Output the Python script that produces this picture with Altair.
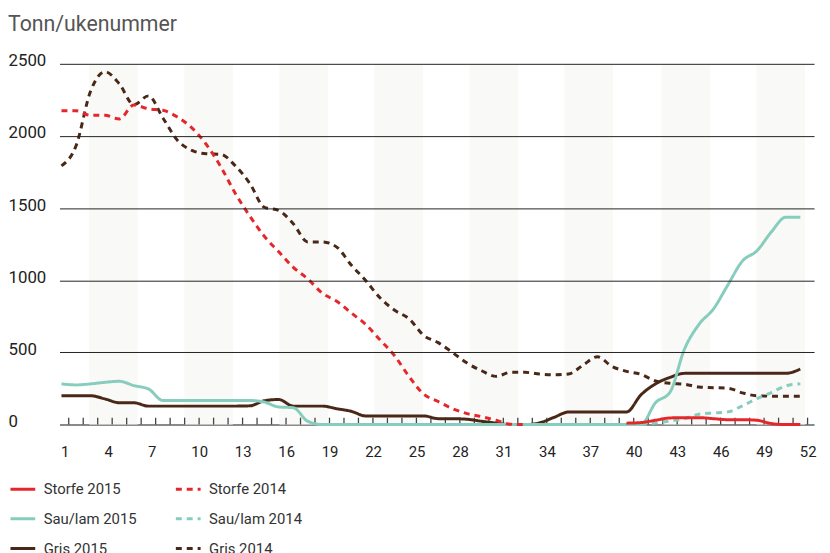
import altair as alt
import pandas as pd

# ---- data (tonn per ukenummer) ----
weeks_all = list(range(1, 53))

storfe_2015_weeks = list(range(40, 53))
storfe_2015 = [10, 14, 30, 46, 48, 48, 41, 34, 34, 30, 7, 0, 0]

storfe_2014_weeks = list(range(1, 34))
storfe_2014 = [2175, 2175, 2143, 2143, 2118, 2215, 2188, 2178, 2131, 2056,
               1941, 1786, 1602, 1445, 1305, 1197, 1090, 1010, 911, 854,
               774, 694, 586, 476, 332, 211, 160, 110, 76, 55,
               30, 2, 0]

sau_2015_weeks = list(range(1, 53))
sau_2015 = [282, 275, 282, 293, 300, 270, 247, 167, 167, 167,
            167, 167, 167, 167, 156, 122, 117, 23, 0, 0,
            0, 0, 0, 0, 0, 0, 0, 0, 0, 0,
            0, 0, 0, 0, 0, 0, 0, 0, 0, 0,
            0, 151, 224, 522, 694, 801, 968, 1133, 1204, 1335,
            1437, 1437]

sau_2014_weeks = list(range(41, 53))
sau_2014 = [0, 10, 25, 41, 72, 80, 88, 130, 180, 222, 268, 282]

gris_2015_weeks = list(range(1, 53))
gris_2015 = [200, 200, 200, 178, 151, 151, 128, 128, 128, 128,
             128, 128, 128, 130, 165, 174, 128, 128, 128, 110,
             92, 60, 60, 60, 60, 60, 41, 41, 37, 23,
             10, 0, 0, 12, 50, 87, 87, 87, 87, 87,
             206, 282, 327, 355, 355, 355, 355, 355, 355, 355,
             355, 385]

gris_2014_weeks = list(range(1, 53))
gris_2014 = [1793, 1930, 2308, 2445, 2360, 2216, 2278, 2125, 1971, 1900,
             1877, 1873, 1793, 1671, 1506, 1483, 1392, 1266, 1266, 1230,
             1106, 998, 877, 792, 733, 618, 568, 499, 426, 373,
             334, 362, 362, 350, 345, 350, 412, 470, 403, 369,
             348, 302, 286, 279, 261, 256, 252, 220, 199, 197,
             197, 197]

# legend is filled column by column: 2015 series left, 2014 series right
series_names = ["Storfe 2015", "Sau/lam 2015", "Gris 2015", "Storfe 2014", "Sau/lam 2014", "Gris 2014"]
series_colors = ["#e5262b", "#86cdbd", "#4a2818", "#e5262b", "#86cdbd", "#4a2818"]
series_dash = [[1, 0], [1, 0], [1, 0], [6, 5], [6, 5], [6, 5]]

x_label_weeks = [1, 4, 7, 10, 13, 16, 19, 22, 25, 28, 31, 34, 37, 40, 43, 46, 49, 52]
y_ticks = [0, 500, 1000, 1500, 2000, 2500]

band_start = [2.91, 9.48, 16.04, 22.6, 29.16, 35.72, 42.42, 48.98]
band_end = [6.26, 12.83, 19.39, 25.95, 32.51, 39.07, 45.77, 52.33]

tick_weeks = [w + 0.5 for w in weeks_all]

# ---- tables ----
rows = []
for name, wk, vals in [
    ("Gris 2014", gris_2014_weeks, gris_2014),
    ("Gris 2015", gris_2015_weeks, gris_2015),
    ("Sau/lam 2014", sau_2014_weeks, sau_2014),
    ("Sau/lam 2015", sau_2015_weeks, sau_2015),
    ("Storfe 2014", storfe_2014_weeks, storfe_2014),
    ("Storfe 2015", storfe_2015_weeks, storfe_2015),
]:
    for w, v in zip(wk, vals):
        rows.append({"series": name, "week": w, "value": v})
df = pd.DataFrame(rows)
bands_df = pd.DataFrame({"start": band_start, "end": band_end})
ticks_df = pd.DataFrame({"tick": tick_weeks})

W = 762
H = 364.3
xscale = alt.Scale(domain=[0.863, 52.95], nice=False, zero=False)
yscale = alt.Scale(domain=[0, 2500], nice=False)
FONT = "Roboto"

x_axis = alt.Axis(
    values=x_label_weeks, title=None, grid=False, ticks=False, tickSize=0,
    domainColor="#8a8a8a", domainWidth=2, labelAlign="left", labelOffset=-1,
    labelPadding=20, labelBaseline="top", labelFontSize=15, labelFont=FONT,
    labelColor="#222", labelFlush=False, labelOverlap=False)

y_axis = alt.Axis(
    values=y_ticks, format="d", title=None, domain=False, ticks=False, tickSize=0,
    grid=True, gridColor="#222", gridWidth=1,
    gridOpacity={"condition": {"test": "datum.value === 0", "value": 0}, "value": 1},
    labelAlign="left", labelPadding=52, labelBaseline="middle", labelOffset=-3,
    labelFontSize=17, labelFont=FONT, labelColor="#222", zindex=1)

bands = alt.Chart(bands_df).mark_rect(color="#f9f9f7").encode(
    x=alt.X("start:Q", scale=xscale, axis=x_axis),
    x2="end:Q",
    y=alt.Y(datum=2500, scale=yscale, axis=y_axis),
    y2=alt.datum(0),
)

legend = alt.Legend(
    title=None, orient="none", legendX=-51, legendY=415.5, columns=2,
    columnPadding=33, rowPadding=8, symbolType="stroke", symbolSize=625,
    symbolStrokeWidth=3, labelFontSize=15, labelFont=FONT, labelColor="#333",
    labelOffset=7, padding=0,
)

lines = alt.Chart(df).mark_line(strokeWidth=3, interpolate="monotone").encode(
    x=alt.X("week:Q", scale=xscale, axis=x_axis),
    y=alt.Y("value:Q", scale=yscale, axis=y_axis),
    color=alt.Color("series:N", scale=alt.Scale(domain=series_names, range=series_colors), legend=legend),
    strokeDash=alt.StrokeDash("series:N", scale=alt.Scale(domain=series_names, range=series_dash), legend=legend),
)

ticks = alt.Chart(ticks_df).mark_rule(color="#444", strokeWidth=1.3).encode(
    x=alt.X("tick:Q", scale=xscale, axis=x_axis),
    y=alt.Y(datum=0, scale=yscale, axis=y_axis),
    y2=alt.datum(48),
)

chart = alt.layer(bands, ticks, lines).properties(
    width=W, height=H,
    title=alt.TitleParams("Tonn/ukenummer", anchor="start", frame="bounds", font=FONT,
                          fontSize=21.5, fontWeight="normal", color="#555",
                          baseline="alphabetic", offset=20, dy=20),
    padding={"left": 52, "top": 53.7, "right": 8, "bottom": 127},
    autosize=alt.AutoSizeParams(type="none"),
).configure_view(stroke=None)

chart.save("out.html", embed_options={"renderer": "svg", "actions": False})
